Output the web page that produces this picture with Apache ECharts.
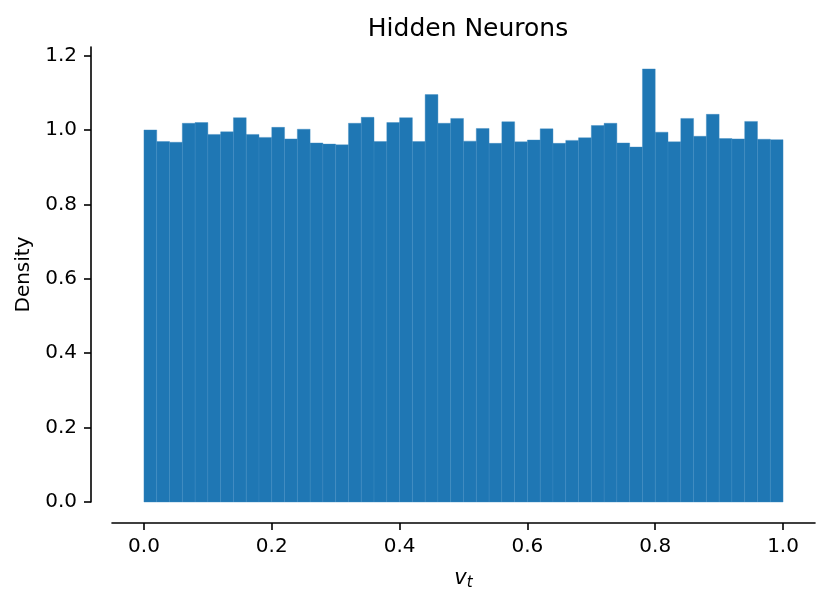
<!DOCTYPE html>
<html>
<head>
<meta charset="utf-8">
<title>Hidden Neurons</title>
<script src="https://cdn.jsdelivr.net/npm/echarts@6/dist/echarts.min.js"></script>
<style>
  html, body { margin: 0; padding: 0; background: #fff; }
  #chart { width: 830px; height: 603px; }
</style>
</head>
<body>
<div id="chart"></div>
<script>
// histogram of v_t, 50 bins of width 0.02 over [0, 1]
const binWidth = 0.02;
const density = [
  1.000, 0.969, 0.967, 1.018, 1.020, 0.988, 0.995, 1.033, 0.988, 0.980,
  1.007, 0.976, 1.002, 0.965, 0.962, 0.960, 1.018, 1.034, 0.969, 1.020,
  1.033, 0.969, 1.095, 1.018, 1.031, 0.970, 1.004, 0.964, 1.022, 0.968,
  0.973, 1.003, 0.964, 0.972, 0.979, 1.012, 1.018, 0.965, 0.954, 1.164,
  0.994, 0.968, 1.031, 0.983, 1.042, 0.977, 0.976, 1.023, 0.975, 0.974
];
const xTicks = [0, 0.2, 0.4, 0.6, 0.8, 1.0];
const yTicks = [0, 0.2, 0.4, 0.6, 0.8, 1.0, 1.2];

const bins = density.map((d, i) => [i * binWidth, (i + 1) * binWidth, d]);

const chart = echarts.init(document.getElementById('chart'));
const font = 'DejaVu Sans';

const option = {
  animation: false,
  title: {
    text: 'Hidden Neurons',
    left: 463,
    textAlign: 'center',
    top: 12,
    textStyle: { fontFamily: font, fontSize: 25, fontWeight: 'normal', color: '#000' }
  },
  grid: { left: 112, right: 15, top: 47, bottom: 101 },
  xAxis: {
    type: 'value',
    min: -0.05,
    max: 1.05,
    offset: 21,
    name: '{v|v}{s|t}',
    nameLocation: 'middle',
    nameGap: 43,
    nameTextStyle: {
      rich: {
        v: { fontFamily: font, fontStyle: 'italic', fontSize: 21, color: '#000' },
        s: { fontFamily: font, fontStyle: 'italic', fontSize: 15, color: '#000', padding: [10, 0, 0, 0] }
      }
    },
    axisLine: { show: true, onZero: false, lineStyle: { color: '#000', width: 1.6 } },
    axisTick: { show: true, length: 7, customValues: xTicks, lineStyle: { color: '#000', width: 1.6 } },
    axisLabel: {
      customValues: xTicks,
      margin: 14,
      fontFamily: font, fontSize: 20, color: '#000',
      formatter: v => v.toFixed(1)
    },
    splitLine: { show: false }
  },
  yAxis: {
    type: 'value',
    min: 0,
    max: 1.223,
    offset: 21,
    name: 'Density',
    nameLocation: 'middle',
    nameGap: 57,
    nameTextStyle: { fontFamily: font, fontSize: 20, color: '#000' },
    axisLine: { show: true, onZero: false, lineStyle: { color: '#000', width: 1.6 } },
    axisTick: { show: true, length: 7, customValues: yTicks, lineStyle: { color: '#000', width: 1.6 } },
    axisLabel: {
      customValues: yTicks,
      margin: 14,
      fontFamily: font, fontSize: 20, color: '#000',
      formatter: v => v.toFixed(1)
    },
    splitLine: { show: false }
  },
  series: [
    {
      type: 'custom',
      data: bins,
      encode: { x: [0, 1], y: 2 },
      renderItem: (params, api) => {
        const p0 = api.coord([api.value(0), api.value(2)]);
        const p1 = api.coord([api.value(1), 0]);
        return {
          type: 'rect',
          shape: { x: p0[0], y: p0[1], width: p1[0] - p0[0], height: p1[1] - p0[1] },
          style: { fill: '#1f77b4', stroke: '#3a88c0', lineWidth: 0.4 }
        };
      }
    }
  ]
};

chart.setOption(option);
</script>
</body>
</html>
